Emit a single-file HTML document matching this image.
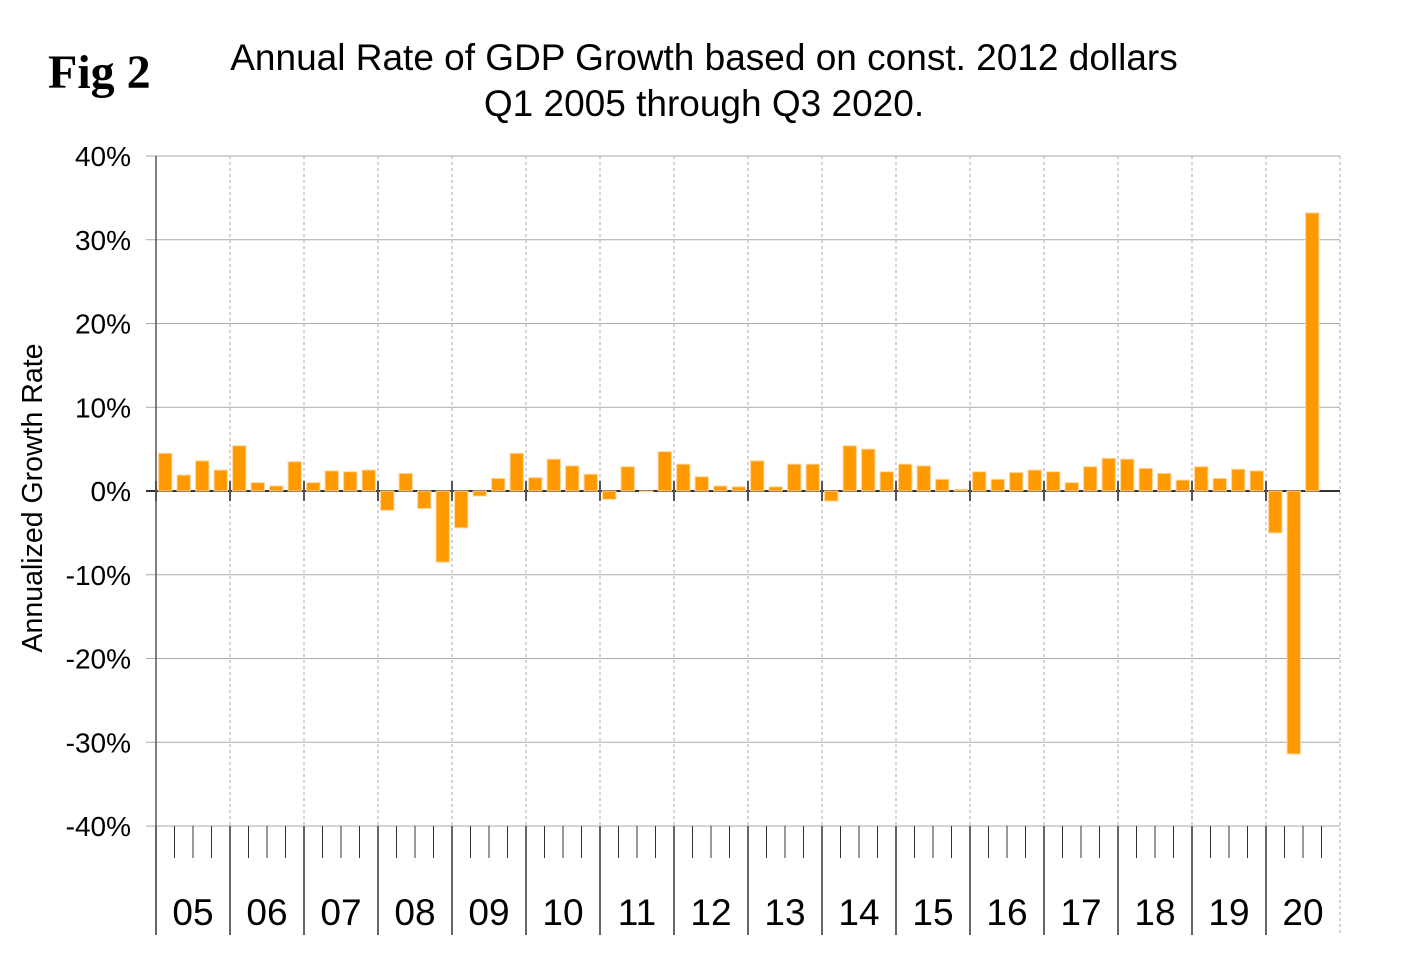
<!DOCTYPE html>
<html><head><meta charset="utf-8"><style>
body{margin:0;background:#fff;}
svg text{font-family:"Liberation Sans",Arial,sans-serif;}
</style></head><body>
<svg width="1420" height="973" viewBox="0 0 1420 973" id="chart">
<text x="48" y="88" style="font-family:'Liberation Serif',serif;font-weight:bold;font-size:48px">Fig 2</text>
<text x="704" y="70" text-anchor="middle" font-size="37">Annual Rate of GDP Growth based on const. 2012 dollars</text>
<text x="704" y="116" text-anchor="middle" font-size="37">Q1 2005 through Q3 2020.</text>
<text transform="translate(42,498) rotate(-90)" text-anchor="middle" font-size="28.5">Annualized Growth Rate</text>
<g id="grid"></g><g id="bars"></g><g id="axes"></g>
</svg>
<script>
const years=["05","06","07","08","09","10","11","12","13","14","15","16","17","18","19","20"];
const yTicks=[40,30,20,10,0,-10,-20,-30,-40];
const growth=[4.5,1.9,3.6,2.5, 5.4,1.0,0.6,3.5, 1.0,2.4,2.3,2.5, -2.3,2.1,-2.1,-8.5,
 -4.4,-0.6,1.5,4.5, 1.6,3.8,3.0,2.0, -1.0,2.9,-0.1,4.7, 3.2,1.7,0.6,0.5,
 3.6,0.5,3.2,3.2, -1.2,5.4,5.0,2.3, 3.2,3.0,1.4,0.2, 2.3,1.4,2.2,2.5,
 2.3,1.0,2.9,3.9, 3.8,2.7,2.1,1.3, 2.9,1.5,2.6,2.4, -5.0,-31.4,33.2];
const X0=156,X1=1340,Y0=156,Y1=826;
const nQ=years.length*4, qW=(X1-X0)/nQ;
const y=v=>Y0+(40-v)/80*(Y1-Y0);
const xq=i=>X0+i*qW;
const NS="http://www.w3.org/2000/svg";
function mk(p,t,a){const e=document.createElementNS(NS,t);for(const k in a)e.setAttribute(k,a[k]);p.appendChild(e);return e;}
const G=document.getElementById('grid'),B=document.getElementById('bars'),A=document.getElementById('axes');
yTicks.forEach(t=>{
 const l=mk(G,'line',{x1:X0-10,x2:X1,y1:y(t),y2:y(t),stroke:t===0?'#333':'#aaa','stroke-width':t===0?2:1});
 
 
 const tx=mk(A,'text',{x:131,y:y(t)+10,'text-anchor':'end','font-size':28});
 tx.textContent=t+'%';
 
 
});
years.forEach((yr,k)=>{
 const xv=X0+k*4*qW;
 if(k>0){const d=mk(G,'line',{x1:xv,x2:xv,y1:Y0,y2:Y1,stroke:'#aaa','stroke-dasharray':'3,3'});
 
 }
 mk(A,'line',{x1:xv,x2:xv,y1:y(0)-10,y2:y(0)+10,stroke:'#555','stroke-width':2});
 mk(A,'line',{x1:xv,x2:xv,y1:Y1,y2:935,stroke:'#333','stroke-width':1.5});
 for(let q=1;q<4;q++){const xx=xv+q*qW;mk(A,'line',{x1:xx,x2:xx,y1:Y1,y2:858,stroke:'#333'});}
 const t=mk(A,'text',{x:xv+2*qW,y:925,'text-anchor':'middle','font-size':37});
 t.textContent=yr;
 
 
});
mk(G,'line',{x1:X1,x2:X1,y1:Y0,y2:935,stroke:'#aaa','stroke-dasharray':'3,3'});
mk(A,'line',{x1:X0,x2:X0,y1:Y0,y2:935,stroke:'#555','stroke-width':1.5});
growth.forEach((v,i)=>{
 const bw=qW*0.72, x=xq(i)+(qW-bw)/2;
 const r=mk(B,'rect',{x:x,y:Math.min(y(v),y(0)),width:bw,height:Math.abs(y(v)-y(0)),fill:'#ff9900',stroke:'#ffd59a','stroke-width':1});
 
 
});
</script>
</body></html>
